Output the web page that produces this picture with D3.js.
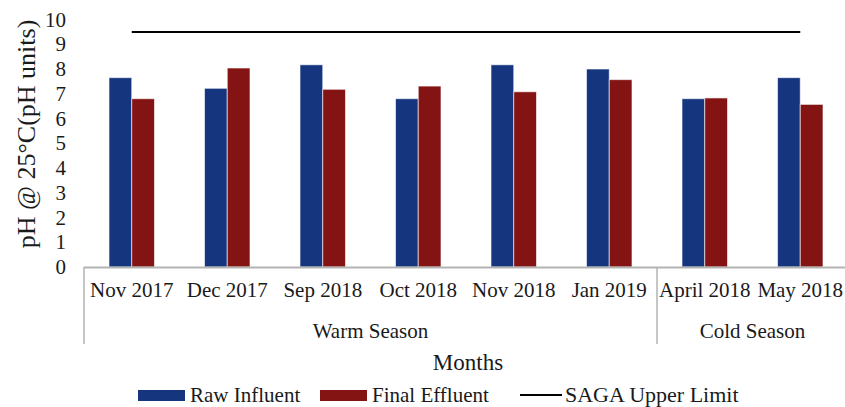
<!DOCTYPE html>
<html>
<head>
<meta charset="utf-8">
<script src="https://d3js.org/d3.v7.min.js"></script>
<style>
body { margin: 0; background: #fff; }
svg text { font-family: "Liberation Serif", "Times New Roman", serif; fill: #1a1a1a; }
</style>
</head>
<body>
<svg id="chart" width="845" height="407"></svg>
<script>
// data
var months = ["Nov 2017", "Dec 2017", "Sep 2018", "Oct 2018", "Nov 2018", "Jan 2019", "April 2018", "May 2018"];
var rawInfluent = [7.65, 7.22, 8.17, 6.8, 8.17, 8.0, 6.8, 7.65];
var finalEffluent = [6.8, 8.04, 7.18, 7.31, 7.08, 7.57, 6.83, 6.57];
var seasons = ["Warm Season", "Cold Season"];
var seasonMonths = [6, 2];
var sagaLimit = 9.5;
var yTicks = [0, 1, 2, 3, 4, 5, 6, 7, 8, 9, 10];
var seriesNames = ["Raw Influent", "Final Effluent"];
var colors = ["#15357f", "#841414"];

var serif = "'Liberation Serif', 'Times New Roman', serif";
var svg = d3.select("#chart");

var x0 = d3.scaleBand()
	.domain(months)
	.range([84, 848])
	.paddingInner(0)
	.paddingOuter(0);

var x1 = d3.scaleBand()
	.domain(seriesNames)
	.range([0, x0.bandwidth()])
	.paddingInner(0)
	.paddingOuter(1.1);

var y = d3.scaleLinear()
	.domain([0, 10])
	.range([267, 19.5]);

// y axis (labels only)
var yAxis = svg.append("g")
	.attr("transform", "translate(84,0)")
	.attr("font-family", serif)
	.call(d3.axisLeft(y).tickValues(yTicks).tickSize(0).tickPadding(18));
yAxis.select(".domain").remove();
yAxis.selectAll("text")
	.attr("font-family", serif)
	.attr("font-size", 21);

// bars
var table = months.map(function(m, i) {
	return {month: m, values: [rawInfluent[i], finalEffluent[i]]};
});

var groups = svg.selectAll(".grp")
	.data(table)
	.enter()
	.append("g")
	.attr("class", "grp")
	.attr("transform", function(d) { return "translate(" + x0(d.month) + ",0)"; });

groups.selectAll("rect")
	.data(function(d) { return d.values.map(function(v, j) { return {name: seriesNames[j], value: v, j: j}; }); })
	.enter()
	.append("rect")
	.attr("x", function(d) { return x1(d.name); })
	.attr("width", x1.bandwidth())
	.attr("y", function(d) { return y(d.value); })
	.attr("height", function(d) { return y(0) - y(d.value); })
	.style("fill", function(d) { return colors[d.j]; })
	.style("stroke", "rgba(255,255,255,0.6)")
	.style("stroke-width", 1);

// category axis line
svg.append("line")
	.attr("x1", x0.range()[0]).attr("x2", x0.range()[1])
	.attr("y1", y(0) + 0.5).attr("y2", y(0) + 0.5)
	.style("stroke", "#b3b3b3").style("stroke-width", 2);

var xAxis = svg.append("g")
	.attr("transform", "translate(0," + (y(0)) + ")")
	.attr("font-family", serif)
	.call(d3.axisBottom(x0).tickSize(0).tickPadding(15));
xAxis.select(".domain").remove();
xAxis.selectAll("text")
	.attr("font-family", serif)
	.attr("font-size", 21);

// season groups
var start = 0;
var bounds = [x0(months[0])];
seasons.forEach(function(s, i) {
	var a = x0(months[start]);
	var b = x0(months[start + seasonMonths[i] - 1]) + x0.bandwidth();
	svg.append("text")
		.attr("x", (a + b) / 2)
		.attr("y", 338)
		.attr("text-anchor", "middle")
		.attr("font-family", serif)
		.attr("font-size", 21)
		.text(s);
	bounds.push(b);
	start += seasonMonths[i];
});
bounds.forEach(function(bx) {
	svg.append("line")
		.attr("x1", bx).attr("x2", bx)
		.attr("y1", y(0)).attr("y2", 344)
		.style("stroke", "#b3b3b3").style("stroke-width", 1.5);
});

// SAGA limit line
svg.append("line")
	.attr("x1", x0(months[0]) + x0.bandwidth() / 2)
	.attr("x2", x0(months[months.length - 1]) + x0.bandwidth() / 2)
	.attr("y1", y(sagaLimit)).attr("y2", y(sagaLimit))
	.style("stroke", "#000").style("stroke-width", 2);

// axis titles
svg.append("text")
	.attr("transform", "translate(35,134) rotate(-90)")
	.attr("text-anchor", "middle")
	.attr("font-family", serif)
	.attr("font-size", 26)
	.text("pH @ 25°C(pH units)");

svg.append("text")
	.attr("x", 468).attr("y", 370)
	.attr("text-anchor", "middle")
	.attr("font-family", serif)
	.attr("font-size", 23)
	.text("Months");

// legend
var legend = [
	{label: "Raw Influent", x: 138, type: "rect", color: colors[0]},
	{label: "Final Effluent", x: 320, type: "rect", color: colors[1]},
	{label: "SAGA Upper Limit", x: 520, type: "line", color: "#000"}
];
legend.forEach(function(l) {
	if (l.type === "rect") {
		svg.append("rect")
			.attr("x", l.x).attr("y", 390).attr("width", 47).attr("height", 11)
			.style("fill", l.color);
		svg.append("text")
			.attr("x", l.x + 52).attr("y", 401.5)
			.attr("font-family", serif)
			.attr("font-size", 21)
			.text(l.label);
	} else {
		svg.append("line")
			.attr("x1", l.x).attr("x2", l.x + 42)
			.attr("y1", 395).attr("y2", 395)
			.style("stroke", l.color).style("stroke-width", 2);
		svg.append("text")
			.attr("x", l.x + 45).attr("y", 401.5)
			.attr("font-family", serif)
			.attr("font-size", 22)
			.text(l.label);
	}
});
</script>
</body>
</html>
